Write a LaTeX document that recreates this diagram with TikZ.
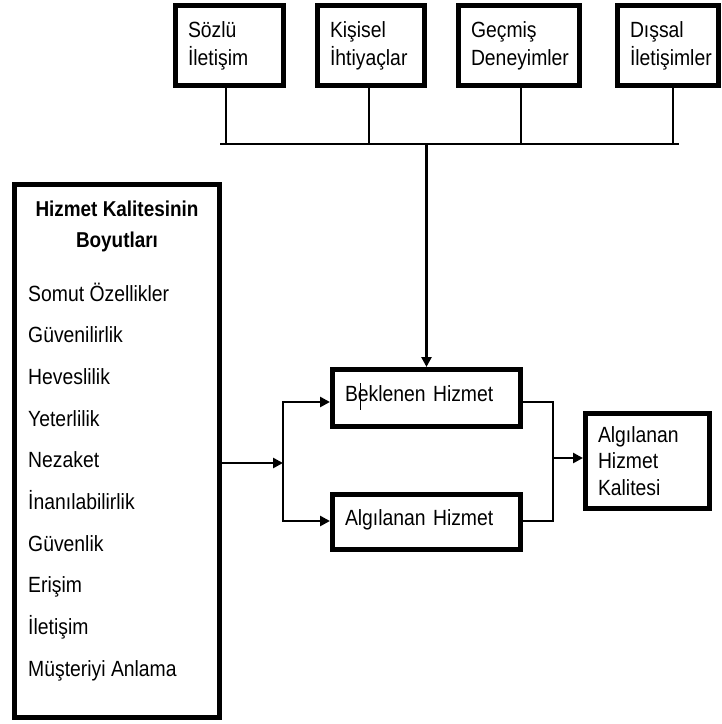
\documentclass[tikz,border=0pt]{standalone}
\usepackage{fontspec}
\setmainfont{Liberation Sans}[FakeStretch=0.88]
\usetikzlibrary{arrows.meta}
\begin{document}
\begin{tikzpicture}[x=1pt,y=-1pt,
  box/.style={draw, line width=5pt, inner xsep=12.5pt, inner ysep=0pt, align=left,
    font=\fontsize{22}{28}\selectfont},
  frame/.style={draw, line width=5pt, inner sep=0pt},
  wire/.style={line width=2pt},
  feed/.style={line width=2.6pt},
  arr/.style={-{Triangle[length=10pt,width=10pt]}},
  lbl/.style={font=\fontsize{22}{24}\selectfont, inner sep=0pt, anchor=base west}]
\useasboundingbox (0,0) rectangle (722,724);
\fill[white] (0,0) rectangle (722,724);

% expectation sources
\node[box, minimum width=108, minimum height=80, text width=83] (s1) at (229.5,45.5) {Sözlü\\İletişim};
\node[box, minimum width=107, minimum height=80, text width=82] (s2) at (371,45.5) {Kişisel\\İhtiyaçlar};
\node[box, minimum width=121, minimum height=80, text width=96] (s3) at (519,45.5) {Geçmiş\\Deneyimler};
\node[box, minimum width=101, minimum height=80, text width=76] (s4) at (668,45.5) {Dışsal\\İletişimler};

% collecting bus
\coordinate (busL) at (220,144);
\coordinate (busR) at (679,144);
\coordinate (busM) at (426.5,144);
\draw[wire] (busL) -- (busR);
\draw[wire] ([xshift=-4pt]s1.south) -- ([xshift=-4pt]s1.south |- busL);
\draw[wire] ([xshift=-2pt]s2.south) -- ([xshift=-2pt]s2.south |- busL);
\draw[wire] ([xshift=1.5pt]s3.south) -- ([xshift=1.5pt]s3.south |- busL);
\draw[wire] ([xshift=4.5pt]s4.south) -- ([xshift=4.5pt]s4.south |- busL);

% expected and perceived service
\node[box, minimum width=188, minimum height=57, text width=163, text height=16pt, text depth=10pt] (bek) at (426.5,398) {Beklenen Hizmet};
\node[box, minimum width=188, minimum height=55, text width=163, text height=16pt, text depth=10pt] (alg) at (426.5,522) {Algılanan Hizmet};
\node[box, minimum width=124, minimum height=95, text width=99, font=\fontsize{22}{26.5}\selectfont] (res) at (647.5,461) {Algılanan\\Hizmet\\Kalitesi};

% caret mark in the first box
\draw[line width=1pt] (360,383) -- (360,410);

% dimensions of service quality
\node[frame, minimum width=205, minimum height=533] (lbox) at (117,451) {};
\node[font=\bfseries\fontsize{21.5}{31}\selectfont, align=center, inner sep=0pt] (title) at (117,226) {Hizmet Kalitesinin\\Boyutları};
\foreach \t [count=\i from 0] in {Somut Özellikler, Güvenilirlik, Heveslilik, Yeterlilik, Nezaket, İnanılabilirlik, Güvenlik, Erişim, İletişim, Müşteriyi Anlama}
  \node[lbl] (d\i) at (28, 301+41.7*\i) {\t};

% connectors
\draw[feed, arr] (busM) -- (bek.north);

\coordinate (jl) at (283,463);
\coordinate (jlt) at (283,402);
\coordinate (jlb) at (283,521);
\draw[feed, arr] (lbox.east |- jl) -- (jl);
\draw[feed, arr] (jlb) -- (jlt) -- (bek.west |- jlt);
\draw[feed, arr] (jlt) -- (jlb) -- (alg.west |- jlb);

\coordinate (jrt) at (553,402);
\coordinate (jrb) at (553,521);
\coordinate (jr) at (553,458);
\draw[wire] (bek.east |- jrt) -- (jrt) -- (jrb) -- (alg.east |- jrb);
\draw[feed, arr] (jr) -- (res.west |- jr);
\end{tikzpicture}
\end{document}
